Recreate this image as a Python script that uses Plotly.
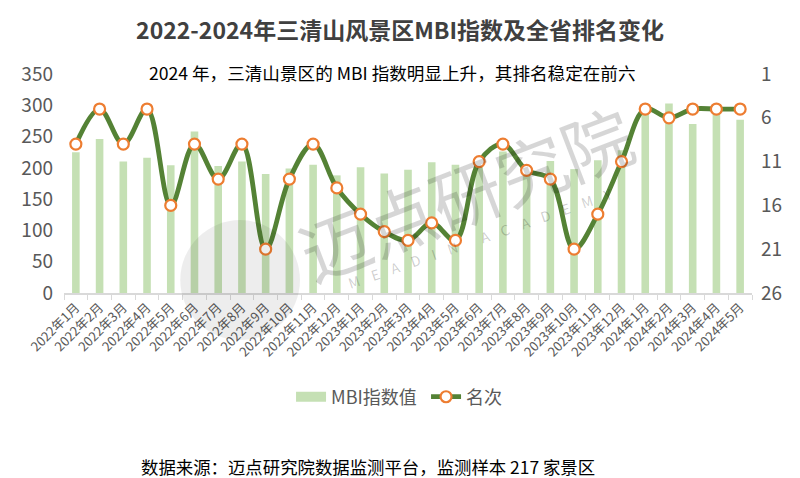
import plotly.graph_objects as go

months = ["2022年1月", "2022年2月", "2022年3月", "2022年4月", "2022年5月", "2022年6月",
          "2022年7月", "2022年8月", "2022年9月", "2022年10月", "2022年11月", "2022年12月",
          "2023年1月", "2023年2月", "2023年3月", "2023年4月", "2023年5月", "2023年6月",
          "2023年7月", "2023年8月", "2023年9月", "2023年10月", "2023年11月", "2023年12月",
          "2024年1月", "2024年2月", "2024年3月", "2024年4月", "2024年5月"]
mbi_values = [225, 246, 210, 216, 204, 258, 203, 210, 190, 199, 205, 188,
              201, 191, 197, 209, 205, 210, 226, 200, 211, 198, 212, 228,
              293, 303, 270, 290, 277]
ranks = [9, 5, 9, 5, 16, 9, 13, 9, 21, 13, 9, 14,
         17, 19, 20, 18, 20, 11, 9, 12, 13, 21, 17, 11,
         5, 6, 5, 5, 5]
left_ticks = [0, 50, 100, 150, 200, 250, 300, 350]
right_ticks = [1, 6, 11, 16, 21, 26]

FONT = "Noto Sans CJK SC"
BAR_COLOR = "#c5e0b4"

fig = go.Figure()
fig.add_trace(go.Bar(
    x=months, y=mbi_values, name="MBI指数值",
    marker=dict(color=BAR_COLOR, line=dict(width=0)),
    width=0.32, yaxis="y", showlegend=False,
))
# legend swatch for the bars (wide rectangle like the reference)
fig.add_trace(go.Scatter(
    x=[months[0]], y=[None], name="MBI指数值", mode="lines",
    line=dict(color=BAR_COLOR, width=10), yaxis="y",
))
fig.add_trace(go.Scatter(
    x=months, y=ranks, name="名次", yaxis="y2",
    mode="lines+markers",
    line=dict(color="#548235", width=4.8, shape="spline", smoothing=1.0),
    marker=dict(size=11, color="white", line=dict(color="#ed7d31", width=2.2)),
))

# watermark
fig.add_shape(type="circle", xref="paper", yref="paper",
              x0=0.169, x1=0.343, y0=-0.215, y1=0.333,
              fillcolor="rgba(0,0,0,0.07)", line=dict(width=0), layer="above")
fig.add_annotation(text="迈点研究院", xref="paper", yref="paper", x=0.583, y=0.465,
                   xanchor="center", yanchor="middle",
                   showarrow=False, textangle=-21,
                   font=dict(family=FONT, size=70, color="rgba(0,0,0,0.16)"))
fig.add_annotation(text="M    E    A    D    I    N        A    C    A    D    E    M    Y",
                   xref="paper", yref="paper", x=0.605, y=0.251,
                   xanchor="center", yanchor="middle", showarrow=False, textangle=-19,
                   font=dict(family=FONT, size=14, color="rgba(0,0,0,0.2)"))

fig.add_annotation(text="2024 年，三清山景区的 MBI 指数明显上升，其排名稳定在前六",
                   xref="paper", yref="paper", x=0.477, y=1.005, yanchor="middle",
                   showarrow=False, font=dict(family=FONT, size=17.6, color="#000000"))
fig.add_annotation(text="数据来源：迈点研究院数据监测平台，监测样本 217 家景区",
                   xref="paper", yref="paper", x=0.442, y=-0.79, yanchor="middle",
                   showarrow=False, font=dict(family=FONT, size=17.4, color="#000000"))

# page body adds an 8px margin, so the figure is 792x470 placed at (8, 8)
fig.update_layout(
    width=792, height=470,
    margin=dict(l=56, r=48, t=66, b=185),
    paper_bgcolor="white", plot_bgcolor="white",
    title=dict(text="<b>2022-2024年三清山风景区MBI指数及全省排名变化</b>",
               x=0.495, xanchor="center", y=0.951, yanchor="middle",
               font=dict(family=FONT, size=23, color="#404040")),
    font=dict(family=FONT, color="#595959"),
    showlegend=True,
    legend=dict(orientation="h", x=0.33, xanchor="left", y=-0.475, yanchor="middle",
                font=dict(family=FONT, size=18, color="#595959"),
                traceorder="normal", entrywidth=90, itemwidth=30),
    xaxis=dict(type="category", range=[-0.5, len(months) - 0.5],
               tickangle=-45, tickfont=dict(size=13, color="#595959"),
               showline=True, linecolor="#d9d9d9", linewidth=1.5,
               ticks="outside", tickson="boundaries", ticklen=5, tickcolor="#d9d9d9",
               showgrid=False, automargin=False),
    yaxis=dict(range=[0, 350], tickvals=left_ticks, showgrid=False, showline=False,
               zeroline=False, tickfont=dict(size=19, color="#595959"), automargin=False,
               ticklabelstandoff=10),
    yaxis2=dict(range=[26, 1], tickvals=right_ticks, overlaying="y", side="right",
                showgrid=False, showline=False, zeroline=False,
                tickfont=dict(size=19, color="#595959"), automargin=False,
                ticklabelstandoff=8),
)

fig.write_html("out.html")
